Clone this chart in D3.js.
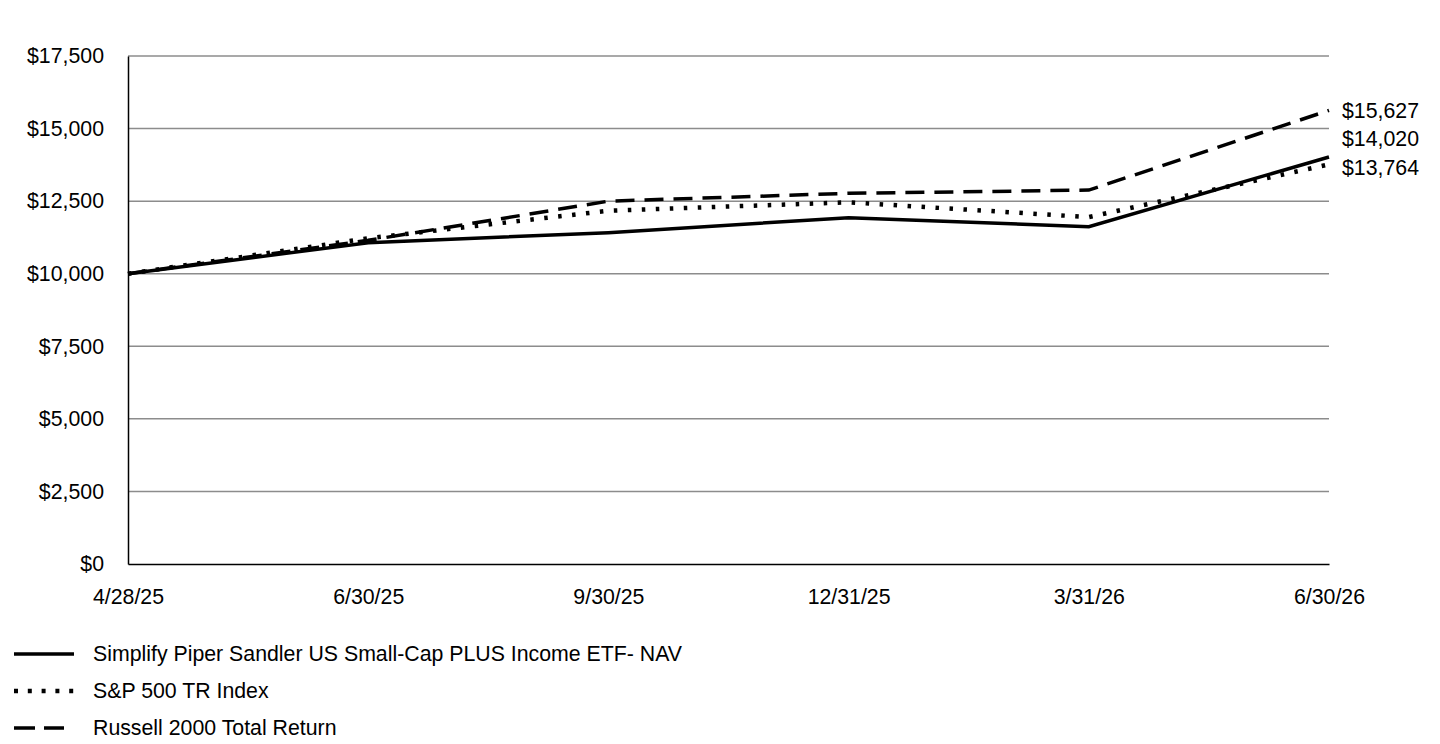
<!DOCTYPE html>
<html><head><meta charset="utf-8">
<script src="https://cdn.jsdelivr.net/npm/d3@7/dist/d3.min.js"></script>
<style>body{margin:0;background:#fff;} text{font-family:"Liberation Sans",Arial,sans-serif;}</style>
</head><body><svg id="c" width="1440" height="744"></svg>
<script>
const categories = ["4/28/25","6/30/25","9/30/25","12/31/25","3/31/26","6/30/26"];
const fundValues = [10000, 11070, 11415, 11930, 11620, 14020];
const spValues = [10000, 11220, 12170, 12460, 11950, 13764];
const russellValues = [10000, 11150, 12500, 12770, 12880, 15627];
const seriesNames = ["Simplify Piper Sandler US Small-Cap PLUS Income ETF- NAV","S&P 500 TR Index","Russell 2000 Total Return"];
const yTicks = [0,2500,5000,7500,10000,12500,15000,17500];
const endLabels = ["$15,627","$14,020","$13,764"];

const series = [
  {name: seriesNames[0], values: fundValues, dash: null, w: 3.5},
  {name: seriesNames[1], values: spValues, dash: "3.5,10.5", w: 4.5},
  {name: seriesNames[2], values: russellValues, dash: "19,10", w: 3.5}
];

const svg = d3.select("#c");
const x = d3.scalePoint().domain(categories).range([128,1329]);
const y = d3.scaleLinear().domain([0,17500]).range([564,56]);
const fmt = d3.format("$,.0f");
const FS = 21.3;

svg.append("g").selectAll("line").data(yTicks.filter(d=>d>0)).join("line")
  .attr("x1",128).attr("x2",1329).attr("y1",d=>y(d)).attr("y2",d=>y(d))
  .attr("stroke","#8c8c8c").attr("stroke-width",1.5);

const ya = svg.append("g").attr("transform","translate(128,0)")
  .call(d3.axisLeft(y).tickValues(yTicks).tickFormat(fmt).tickSize(0).tickPadding(24));
ya.select(".domain").attr("stroke","#000").attr("stroke-width",1.5);
ya.selectAll("text").attr("font-size",FS).attr("fill","#000").style("font-family","Liberation Sans, Arial, sans-serif");

const xa = svg.append("g").attr("transform","translate(0,564)")
  .call(d3.axisBottom(x).tickSize(0).tickPadding(25));
xa.select(".domain").attr("stroke","#000").attr("stroke-width",1.5);
xa.selectAll("text").attr("font-size",FS).attr("fill","#000").style("font-family","Liberation Sans, Arial, sans-serif");

const line = d3.line().x((d,i)=>x(categories[i])).y(d=>y(d));
svg.append("g").selectAll("path").data(series).join("path")
  .attr("d",d=>line(d.values)).attr("fill","none").attr("stroke","#000")
  .attr("stroke-width",d=>d.w).attr("stroke-dasharray",d=>d.dash);

const labY = [111,139,168];
svg.append("g").selectAll("text").data(endLabels).join("text")
  .attr("x",1342).attr("y",(d,i)=>labY[i]).attr("dy","0.35em")
  .attr("font-size",FS).text(d=>d);

const lg = svg.append("g").selectAll("g").data(series).join("g")
  .attr("transform",(d,i)=>`translate(0,${654+i*37})`);
lg.append("line").attr("x1",14).attr("x2",(d,i)=>i===2?64:74).attr("stroke","#000").attr("stroke-width",d=>d.w)
  .attr("stroke-dasharray",(d,i)=>i===1?"4,9.8":(i===2?"21,9":null));
lg.append("text").attr("x",93).attr("dy","0.35em").attr("font-size",FS).text(d=>d.name);
</script></body></html>
